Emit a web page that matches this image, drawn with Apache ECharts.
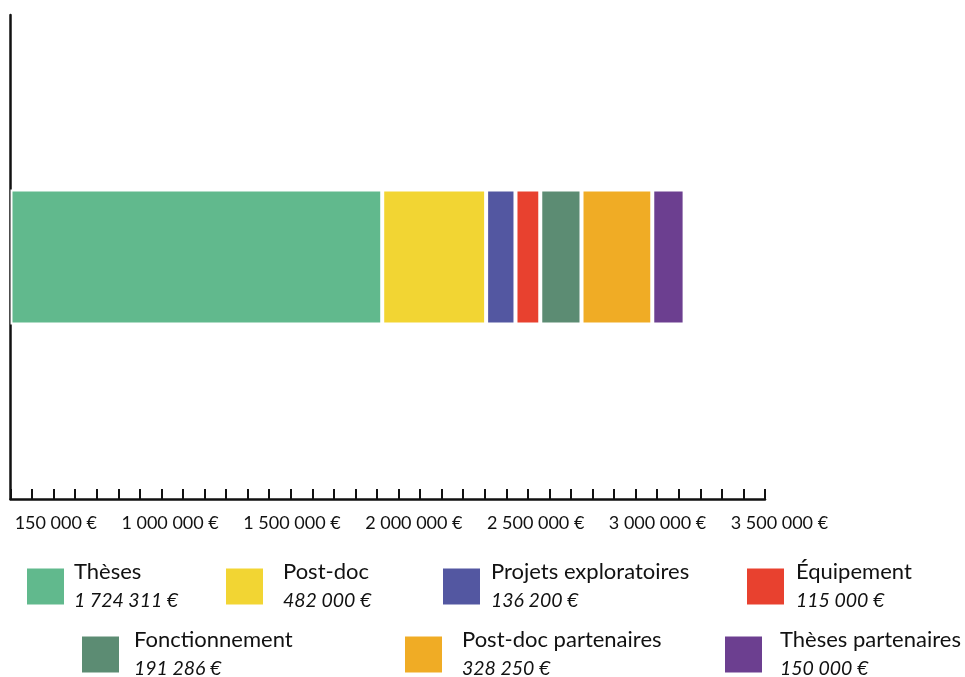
<!DOCTYPE html>
<html>
<head>
<meta charset="utf-8">
<script src="https://cdn.jsdelivr.net/npm/echarts@6/dist/echarts.min.js"></script>
<style>
  html, body { margin: 0; padding: 0; background: #ffffff; }
  #chart { width: 965px; height: 677px; }
</style>
</head>
<body>
<div id="chart"></div>
<script>
// Budget breakdown (euros)
const categories = ['Thèses', 'Post-doc', 'Projets exploratoires', 'Équipement',
                    'Fonctionnement', 'Post-doc partenaires', 'Thèses partenaires'];
const amounts = [1724311, 482000, 136200, 115000, 191286, 328250, 150000];
const colors = ['#61B98D', '#F2D533', '#5357A1', '#E8412F', '#5C8C73', '#F0AC25', '#6C3F90'];
const tickLabels = ['150 000 €', '1 000 000 €', '1 500 000 €', '2 000 000 €',
                    '2 500 000 €', '3 000 000 €', '3 500 000 €'];

const FONT = 'Lato';

function fmtEuro(v) {
  return String(v).replace(/\B(?=(\d{3})+(?!\d))/g, ' ') + ' €';
}

// legend layout: [left, top, gap between swatch and text]
const legendLayout = [
  [25, 561, 4], [224, 561, 14], [441, 561, 5], [745, 561, 6],
  [80, 629, 9], [403, 629, 14], [723, 629, 12]
];

const legends = categories.map((name, i) => ({
  data: [name],
  left: legendLayout[i][0],
  top: legendLayout[i][1],
  padding: 0,
  icon: 'rect',
  itemWidth: 39,
  itemHeight: 38,
  selectedMode: false,
  formatter: n => '{n|' + n + '}\n{v|' + fmtEuro(amounts[i]) + '}',
  textStyle: {
    padding: [0, 0, 0, legendLayout[i][2]],
    rich: {
      n: { fontFamily: FONT, fontSize: 22, lineHeight: 29, color: '#111' },
      v: { fontFamily: FONT, fontSize: 19.5, fontStyle: 'italic', lineHeight: 29, color: '#111' }
    }
  }
}));

const series = categories.map((name, i) => ({
  name: name,
  type: 'bar',
  stack: 'budget',
  xAxisIndex: 0,
  yAxisIndex: 0,
  barWidth: 135,
  data: [amounts[i]],
  itemStyle: { color: colors[i], borderColor: '#ffffff', borderWidth: 2 }
}));

const chart = echarts.init(document.getElementById('chart'), null, { renderer: 'canvas' });
chart.setOption({
  animation: false,
  backgroundColor: '#ffffff',
  color: colors,
  legend: legends,
  grid: [
    { left: 10.5, right: 200, top: 15, bottom: 178 },
    { left: 36, width: 853, top: 505, height: 2 }
  ],
  xAxis: [
    {
      type: 'value', gridIndex: 0, min: 0, max: 3500000, interval: 100000,
      axisLine: { show: true, lineStyle: { color: '#111', width: 2.5 } },
      axisTick: { show: true, inside: true, length: 10, lineStyle: { color: '#111', width: 2 } },
      axisLabel: { show: false },
      splitLine: { show: false }
    },
    {
      type: 'category', gridIndex: 1, data: tickLabels, position: 'bottom',
      axisLine: { show: false }, axisTick: { show: false },
      axisLabel: { margin: 7, align: 'right', fontFamily: FONT, fontSize: 18, color: '#111', interval: 0 }
    }
  ],
  yAxis: [
    {
      type: 'category', gridIndex: 0, data: ['Budget'],
      axisLine: { show: true, lineStyle: { color: '#111', width: 2.5 } },
      axisTick: { show: false }, axisLabel: { show: false }
    },
    { type: 'value', gridIndex: 1, show: false }
  ],
  series: series
});
</script>
</body>
</html>
